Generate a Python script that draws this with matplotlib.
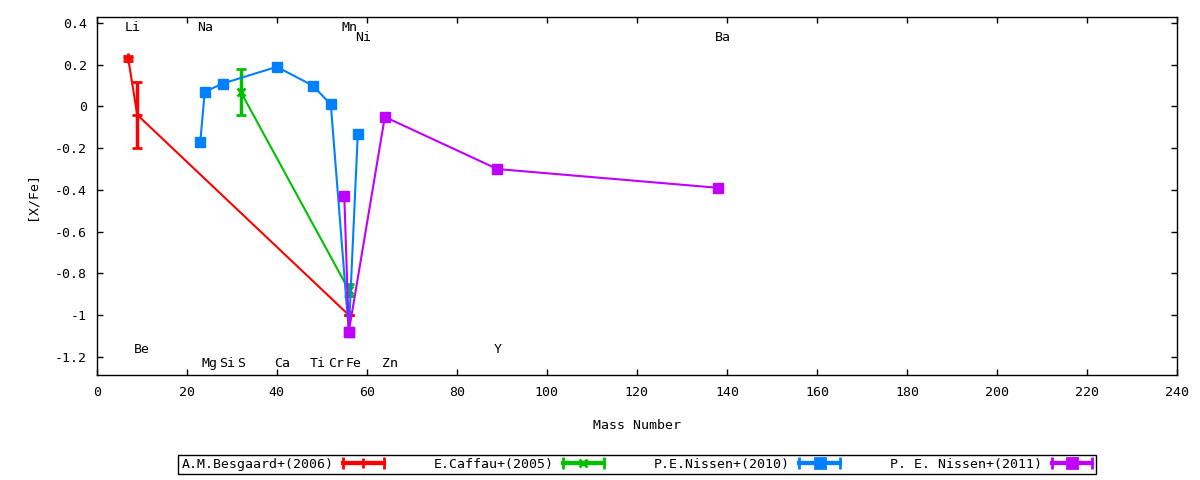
import matplotlib
matplotlib.use("Agg")
import matplotlib.pyplot as plt
import numpy as np
from matplotlib.container import ErrorbarContainer
from matplotlib.collections import LineCollection
from matplotlib.lines import Line2D
from matplotlib.legend_handler import HandlerErrorbar
from matplotlib.ticker import FuncFormatter

plt.rcParams['font.family'] = ['DejaVu Sans Mono']
plt.rcParams['axes.unicode_minus'] = False

# element labels along the plot (mass number, y position)
elem_names = ['Li', 'Be', 'Na', 'Mg', 'Si', 'S', 'Ca', 'Ti', 'Cr',
              'Mn', 'Fe', 'Ni', 'Zn', 'Y', 'Ba']
elem_mass = [7, 9, 23, 24, 28, 32, 40, 48, 52, 55, 56, 58, 64, 89, 138]
elem_y = [0.38, -1.165, 0.38, -1.233, -1.233, -1.233, -1.233, -1.233, -1.233,
          0.38, -1.233, 0.33, -1.233, -1.165, 0.33]

# A.M.Besgaard+(2006)
besg_mass = [7, 9, 56]
besg_xfe = [0.23, -0.04, -1.00]
besg_err = [0.01, 0.157, 0.0]

# E.Caffau+(2005)
caff_mass = [32, 56]
caff_xfe = [0.07, -0.88]
caff_err = [0.11, 0.03]

# P.E.Nissen+(2010)
nis10_mass = [23, 24, 28, 40, 48, 52, 56, 58]
nis10_xfe = [-0.17, 0.07, 0.11, 0.19, 0.10, 0.01, -1.08, -0.13]

# P. E. Nissen+(2011)
nis11_mass = [55, 56, 64, 89, 138]
nis11_xfe = [-0.43, -1.08, -0.05, -0.30, -0.39]

labels = ['A.M.Besgaard+(2006)', 'E.Caffau+(2005)',
          'P.E.Nissen+(2010)', 'P. E. Nissen+(2011)']
colors = ['#ff0000', '#00c000', '#0080ff', '#c000ff']

fs = 9.5
lw = 1.5

fig = plt.figure(figsize=(12, 4.8), dpi=100)
ax = fig.add_axes([0.0806, 0.2181, 0.9003, 0.7465])

ax.errorbar(besg_mass, besg_xfe, yerr=besg_err, color=colors[0], lw=lw,
            marker='+', ms=7, mew=2, elinewidth=2.5, capsize=3.5, capthick=2)
ax.errorbar(caff_mass, caff_xfe, yerr=caff_err, color=colors[1], lw=lw,
            marker='x', ms=6, mew=2, elinewidth=2.5, capsize=3.5, capthick=2)
ax.errorbar(nis10_mass, nis10_xfe, yerr=np.zeros(len(nis10_mass)), color=colors[2],
            lw=lw, marker='s', ms=7.5, elinewidth=2, capsize=3.5, capthick=2)
ax.errorbar(nis11_mass, nis11_xfe, yerr=np.zeros(len(nis11_mass)), color=colors[3],
            lw=lw, marker='s', ms=7.5, elinewidth=2, capsize=3.5, capthick=2)

for name, m, y in zip(elem_names, elem_mass, elem_y):
    ax.text(m - 0.7, y, name, ha='left', va='center', fontsize=fs)

ax.set_xlim(0, 240)
ax.set_ylim(-1.289, 0.429)
ax.set_xticks(np.arange(0, 241, 20))
ax.set_yticks(np.arange(-1.2, 0.41, 0.2))
ax.yaxis.set_major_formatter(FuncFormatter(lambda v, p: '%g' % (round(v, 2) + 0.0)))
ax.tick_params(direction='in', top=True, right=True, length=4, width=1,
               labelsize=fs)
ax.tick_params(axis='x', pad=8)
ax.tick_params(axis='y', pad=7)
for s in ax.spines.values():
    s.set_linewidth(1.0)

ax.set_xlabel('Mass Number', fontsize=fs)
ax.xaxis.set_label_coords(0.5, -0.1387)
ax.xaxis.label.set_va('center')
ax.set_ylabel('[X/Fe]', fontsize=fs)
ax.yaxis.set_label_coords(-0.0599, 0.5)
ax.yaxis.label.set_va('center')

# legend samples drawn like gnuplot keys: |--marker--|
markers = ['+', 'x', 's', 's']
sizes = [7, 6, 7, 7]
handles = []
for c, mk, ms in zip(colors, markers, sizes):
    line = Line2D([], [], color=c, lw=lw * 2, marker=mk, ms=ms, mew=2)
    cap = Line2D([], [], color=c, marker='|', ms=8, mew=2)
    bar = LineCollection([], colors=c, linewidths=lw * 2)
    handles.append(ErrorbarContainer((line, (cap, cap), (bar,)),
                                     has_xerr=True, has_yerr=False))

hl = 3.1
leg = fig.legend(handles, labels, loc='center', ncol=4,
                 bbox_to_anchor=(637 / 1200, 1 - 464.5 / 480),
                 markerfirst=False, fontsize=fs, handlelength=hl,
                 columnspacing=3.8, handletextpad=0.7, borderpad=0.25,
                 fancybox=False, framealpha=1, edgecolor='black',
                 handler_map={ErrorbarContainer: HandlerErrorbar(xerr_size=hl / 2)})
leg.get_frame().set_linewidth(1.0)

fig.savefig('out.png', dpi=100)
